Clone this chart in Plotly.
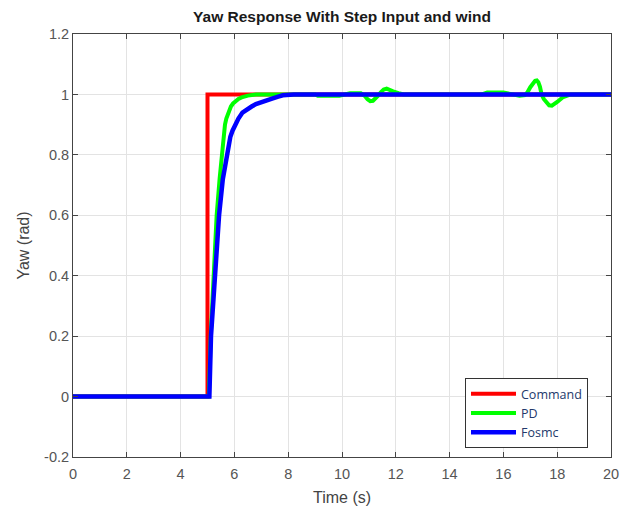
import plotly.graph_objects as go

# Reference command: unit step at t = 5 s
cmd_t = [0, 5.0, 5.0, 20]
cmd_y = [0, 0, 1, 1]

# PD controller yaw response (rad) with wind gusts
pd_t = [0, 5.05, 5.12, 5.24, 5.34, 5.45, 5.53, 5.59, 5.65, 5.7, 5.75, 5.8, 5.87, 5.95,
        6.05, 6.15, 6.27, 6.38, 6.5, 6.8,
        9.0, 9.1, 9.5, 9.9, 10.1, 10.3, 10.7, 10.85, 10.95, 11.05, 11.15, 11.25, 11.35,
        11.45, 11.55, 11.66, 11.78, 11.9, 12.1, 12.3,
        15.2, 15.4, 16.0, 16.3, 16.6, 16.8, 16.9, 17.0, 17.1, 17.18, 17.24, 17.3, 17.36,
        17.42, 17.5, 17.6, 17.7, 17.8, 17.9, 18.0, 18.2, 18.5, 20]
pd_y = [0, 0, 0.2, 0.4, 0.6, 0.72, 0.8, 0.86, 0.9, 0.92, 0.935, 0.948, 0.96, 0.97,
        0.978, 0.985, 0.99, 0.994, 0.996, 1.0,
        1.0, 0.996, 0.995, 0.996, 1.0, 1.004, 1.004, 0.995, 0.984, 0.978, 0.979, 0.986, 0.997,
        1.008, 1.016, 1.019, 1.016, 1.01, 1.004, 1.0,
        1.0, 1.006, 1.006, 1.0, 0.996, 0.998, 1.008, 1.024, 1.038, 1.045, 1.046, 1.04, 1.025,
        1.0, 0.985, 0.972, 0.964, 0.963, 0.968, 0.975, 0.99, 1.0, 1.0]

# FOSMC controller yaw response (rad)
fo_t = [0, 5.07, 5.13, 5.28, 5.43, 5.57, 5.71, 5.78, 5.85, 5.93, 6.02, 6.15, 6.3, 6.45,
        6.64, 6.8, 7.0, 7.2, 7.4, 7.6, 7.8, 8.2, 20]
fo_y = [0, 0, 0.2, 0.4, 0.6, 0.72, 0.8, 0.835, 0.86, 0.88, 0.9, 0.92, 0.94, 0.95,
        0.96, 0.968, 0.975, 0.981, 0.986, 0.992, 0.997, 1.0, 1.0]

x_ticks = list(range(0, 21, 2))
y_ticks = [-0.2, 0, 0.2, 0.4, 0.6, 0.8, 1, 1.2]
y_labels = ["-0.2", "0", "0.2", "0.4", "0.6", "0.8", "1", "1.2"]

fig = go.Figure()
fig.add_trace(go.Scatter(x=cmd_t, y=cmd_y, mode="lines", name="Command",
                         line=dict(color="#ff0000", width=4)))
fig.add_trace(go.Scatter(x=pd_t, y=pd_y, mode="lines", name="PD",
                         line=dict(color="#00ff00", width=4)))
fig.add_trace(go.Scatter(x=fo_t, y=fo_y, mode="lines", name="Fosmc",
                         line=dict(color="#0000ff", width=4.5)))

axis_common = dict(
    showgrid=True, gridcolor="#e3e3e3", gridwidth=1,
    showline=True, linecolor="#444444", linewidth=1, mirror="ticks",
    ticks="inside", ticklen=5, tickcolor="#444444",
    zeroline=False, automargin=False,
    tickfont=dict(family="Liberation Sans, Arial", size=14.5, color="#555555"),
)

fig.update_layout(
    width=631, height=509,
    margin=dict(l=73, r=20, t=34, b=52),
    paper_bgcolor="white", plot_bgcolor="white",
    title=dict(text="<b>Yaw Response With Step Input and wind</b>",
               x=342 / 631, xanchor="center", y=1 - 17 / 509, yanchor="middle",
               yref="container",
               font=dict(family="Liberation Sans, Arial", size=15.5, color="#1a1a1a")),
    xaxis=dict(range=[0, 20], tickvals=x_ticks, ticklabelstandoff=4,
               title=dict(text="Time (s)", standoff=10,
                          font=dict(family="Liberation Sans, Arial", size=16, color="#444444")),
               **axis_common),
    yaxis=dict(range=[-0.2, 1.2], tickvals=y_ticks, ticktext=y_labels,
               title=dict(text="Yaw (rad)", standoff=10,
                          font=dict(family="Liberation Sans, Arial", size=16, color="#444444")),
               **axis_common),
    legend=dict(x=(465 - 73) / 538, y=(457 - 378) / 423, xanchor="left", yanchor="top",
                bgcolor="white", bordercolor="#333333", borderwidth=1,
                font=dict(family="Open Sans, Noto Sans", size=12.5, color="#23396b"),
                tracegroupgap=0, itemwidth=45),
    showlegend=True,
)

fig.write_html("out.html")
